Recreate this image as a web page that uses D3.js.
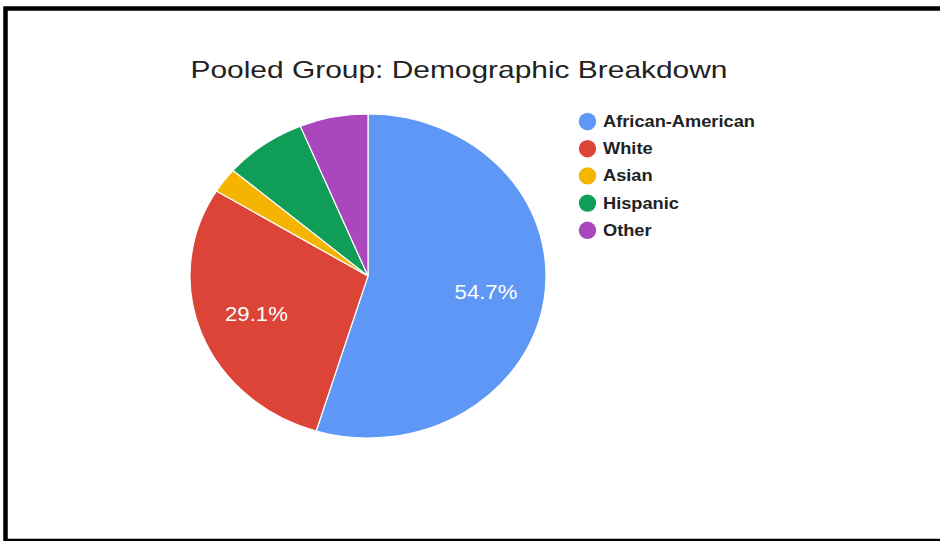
<!DOCTYPE html>
<html>
<head>
<meta charset="utf-8">
<script src="https://cdn.jsdelivr.net/npm/d3@7/dist/d3.min.js"></script>
<style>
  html, body { margin: 0; padding: 0; background: #fff; }
  svg { display: block; }
  text { font-family: "Liberation Sans", Arial, sans-serif; }
</style>
</head>
<body>
<svg id="chart" width="940" height="541"></svg>
<script>
const title = "Pooled Group: Demographic Breakdown";
const categories = ["African-American", "White", "Asian", "Hispanic", "Other"];
const values = [54.7, 29.1, 2.5, 7.5, 6.2];
const colors = ["#5e97f6", "#db4437", "#f4b400", "#0f9d58", "#ab47bc"];
const shownLabels = ["54.7%", "29.1%", "", "", ""];

const svg = d3.select("#chart");
const W = 940, H = 541;

// frame
svg.append("rect")
  .attr("x", 5.5).attr("y", 8.5)
  .attr("width", 960).attr("height", 532.5)
  .attr("fill", "#fff")
  .attr("stroke", "#000").attr("stroke-width", 4.5);

// title
svg.append("text")
  .attr("x", 190.5).attr("y", 78)
  .attr("font-size", 24)
  .attr("fill", "#222")
  .attr("textLength", 537)
  .attr("lengthAdjust", "spacingAndGlyphs")
  .text(title);

// pie
const cx = 368, cy = 276, r = 162, sx = 178 / 162;
const data = categories.map((c, i) => ({ cat: c, value: values[i], color: colors[i], label: shownLabels[i] }));
const pie = d3.pie().value(d => d.value).sort(null);
const arcs = pie(data);
const arc = d3.arc().innerRadius(0).outerRadius(r);
const labelArc = d3.arc().innerRadius(r * 0.67).outerRadius(r * 0.67);

const g = svg.append("g").attr("transform", `translate(${cx},${cy}) scale(${sx},1)`);
g.selectAll("path").data(arcs).join("path")
  .attr("d", arc)
  .attr("fill", d => d.data.color)
  .attr("stroke", "#fff")
  .attr("stroke-width", 1.2)
  .attr("vector-effect", "non-scaling-stroke");

const lg = svg.append("g").attr("transform", `translate(${cx},${cy})`);
lg.selectAll("text").data(arcs.filter(d => d.data.label)).join("text")
  .attr("transform", d => {
    const c = labelArc.centroid(d);
    return `translate(${c[0] * sx},${c[1] + 7}) scale(1.08,1)`;
  })
  .attr("text-anchor", "middle")
  .attr("font-size", 20.5)
  .attr("fill", "#fff")
  .text(d => d.data.label);

// legend
const legY = d3.scaleLinear().domain([0, 1]).range([121.5, 148.7]);
const leg = svg.append("g");
const items = leg.selectAll("g").data(data).join("g")
  .attr("transform", (d, i) => `translate(0,${legY(i)})`);
items.append("circle")
  .attr("cx", 587.5).attr("cy", 0).attr("r", 8.7)
  .attr("fill", d => d.color);
items.append("text")
  .attr("transform", "translate(603,5.5) scale(1.14,1)")
  .attr("font-size", 16)
  .attr("font-weight", "bold")
  .attr("fill", "#222")
  .text(d => d.cat);
</script>
</body>
</html>
